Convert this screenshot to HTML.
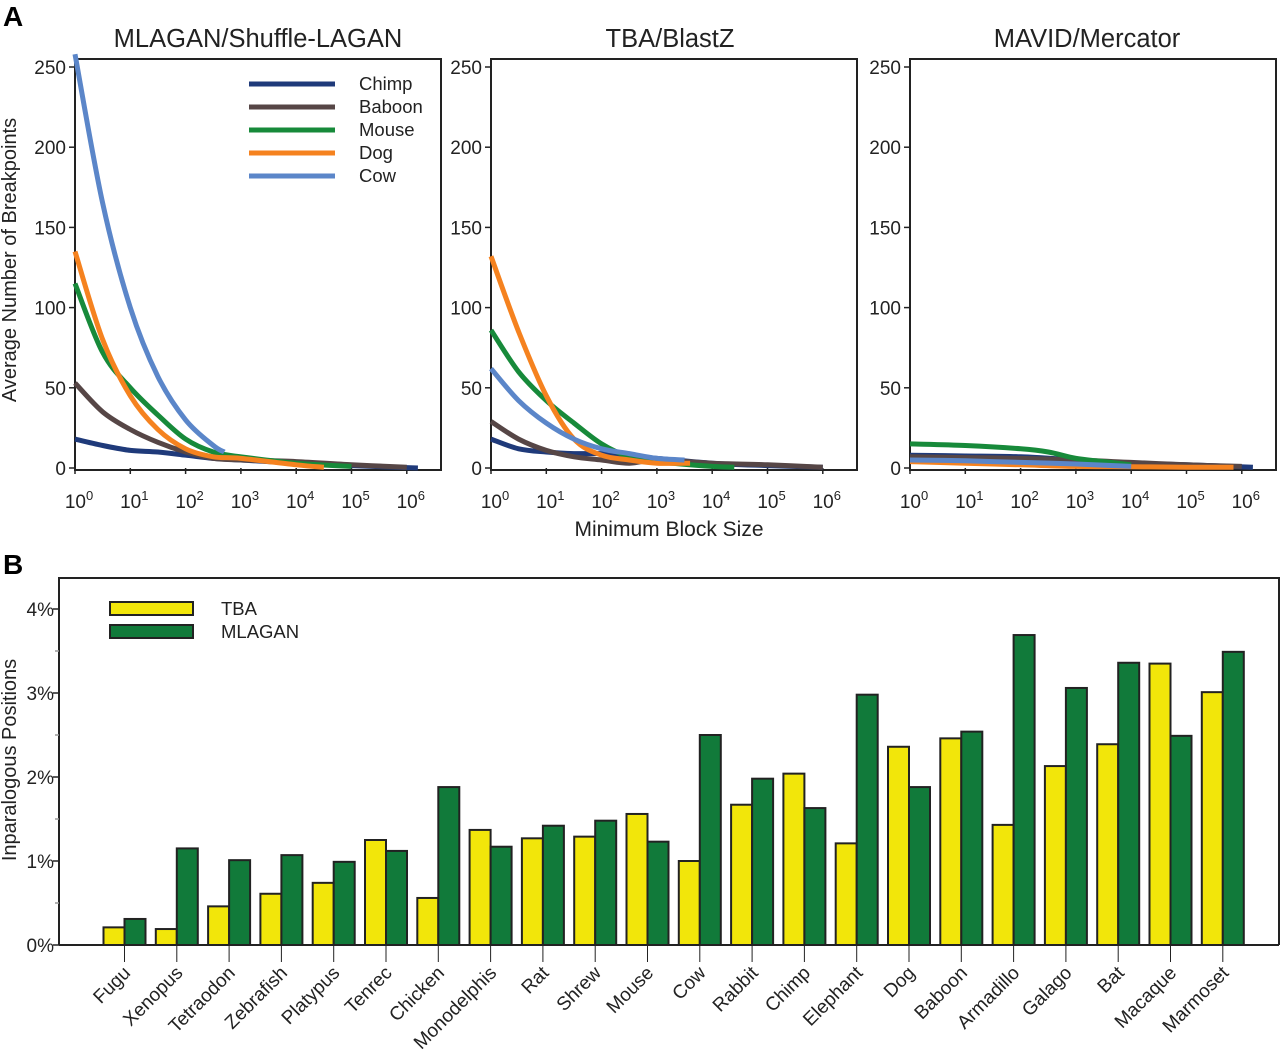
<!DOCTYPE html>
<html><head><meta charset="utf-8"><style>
html,body{margin:0;padding:0;background:#fff}
svg{display:block;font-family:"Liberation Sans",Arial,sans-serif}
</style></head><body>
<svg id="fig" width="1280" height="1051" viewBox="0 0 1280 1051" xmlns="http://www.w3.org/2000/svg">
<text x="3" y="26" font-size="28" font-weight="bold">A</text>
<text x="3" y="574" font-size="28" font-weight="bold">B</text>
<text transform="translate(16,260) rotate(-90)" text-anchor="middle" font-size="20" fill="#222">Average Number of Breakpoints</text>
<text x="669" y="536" text-anchor="middle" font-size="21" fill="#222">Minimum Block Size</text>
<text transform="translate(16,760) rotate(-90)" text-anchor="middle" font-size="20" fill="#222">Inparalogous Positions</text>
<g id="gA"></g>
<g id="gB"></g>
</svg>
<script>
const NS="http://www.w3.org/2000/svg";
function mk(tag,attrs,parent){const e=document.createElementNS(NS,tag);for(const k in attrs)e.setAttribute(k,attrs[k]);parent.appendChild(e);return e;}
function smooth(pts){
  let d='M'+pts[0][0].toFixed(1)+' '+pts[0][1].toFixed(1);
  for(let i=0;i<pts.length-1;i++){
    const p0=pts[Math.max(0,i-1)],p1=pts[i],p2=pts[i+1],p3=pts[Math.min(pts.length-1,i+2)];
    const c1=[p1[0]+(p2[0]-p0[0])/6,p1[1]+(p2[1]-p0[1])/6];
    const c2=[p2[0]-(p3[0]-p1[0])/6,p2[1]-(p3[1]-p1[1])/6];
    d+=` C${c1[0].toFixed(1)} ${c1[1].toFixed(1)} ${c2[0].toFixed(1)} ${c2[1].toFixed(1)} ${p2[0].toFixed(1)} ${p2[1].toFixed(1)}`;
  }
  return d;
}

// ---------- Panel A data ----------
const seriesNames=["Chimp","Baboon","Mouse","Dog","Cow"];
const seriesColors=["#1f3a7a","#564646","#178a3a","#f5821f","#5b86c9"];
const panelTitles=["MLAGAN/Shuffle-LAGAN","TBA/BlastZ","MAVID/Mercator"];
const yTicksA=[0,50,100,150,200,250];
const xTickExps=[0,1,2,3,4,5,6];
const mlChimp=[[0,18],[0.5,14],[1,11],[1.5,10],[2,8],[2.5,6],[3,5],[4,3],[5,1.5],[6.2,0]];
const mlBaboon=[[0,53],[0.5,35],[1,24],[1.5,16],[2,10],[2.5,6],[3,5],[4,4],[5,2],[6,0.5]];
const mlMouse=[[0,115],[0.5,72],[1,50],[1.5,33],[2,18],[2.5,10],[3,7],[4,3],[5,1]];
const mlDog=[[0,135],[0.5,80],[1,45],[1.5,24],[2,12],[2.5,7],[3,6],[4,2],[4.5,0.5]];
const mlCow=[[0,258],[0.5,165],[1,100],[1.5,57],[2,30],[2.5,14],[2.7,10]];
const tbaChimp=[[0,18],[0.5,12],[1,10],[1.5,9],[2,9],[2.5,8],[3,6],[4,3],[5,1.5],[6,0.5]];
const tbaBaboon=[[0,29],[0.5,18],[1,11],[1.5,7],[2,5],[2.5,3],[3,5],[4,3],[5,2],[6,0.5]];
const tbaMouse=[[0,86],[0.5,60],[1,42],[1.5,28],[2,15],[2.5,7],[3,4],[4,1],[4.4,0.5]];
const tbaDog=[[0,132],[0.5,85],[1,45],[1.5,18],[2,8],[2.5,5],[3,3],[3.6,3]];
const tbaCow=[[0,62],[0.5,42],[1,28],[1.5,18],[2,12],[2.5,9],[3,6],[3.5,5]];
const mvChimp=[[0,8],[1,7.5],[2,7],[3,5],[4,3],[5,2],[6.2,0.5]];
const mvBaboon=[[0,7],[1,6.5],[2,6],[3,5],[4,3.5],[5,2],[6,1]];
const mvMouse=[[0,15],[1,14],[2,12],[2.5,10],[3,6],[3.5,4],[4,2]];
const mvDog=[[0,4],[1,3],[2,2],[3,1],[4,0.8],[5,0.5],[5.85,0.5]];
const mvCow=[[0,5],[1,4.5],[2,3.5],[3,2.5],[4,1]];
const panelSeries=[[mlChimp,mlBaboon,mlMouse,mlDog,mlCow],[tbaChimp,tbaBaboon,tbaMouse,tbaDog,tbaCow],[mvChimp,mvBaboon,mvMouse,mvDog,mvCow]];

const gA=document.getElementById('gA');
const boxL=[75,491,910], boxW=366, boxTop=59, y0=468, yPer=(468-67)/250, dec=55.3;
const titleShift=[0,-4,-6];
panelTitles.forEach((t,p)=>{
  const L=boxL[p];
  const xs=v=>L+v*dec, ys=v=>y0-v*yPer;
  const tt=mk('text',{x:L+boxW/2+titleShift[p],y:47,'text-anchor':'middle','font-size':25.5,fill:'#222'},gA);tt.textContent=t;
  
  
  const box=mk('rect',{x:L,y:boxTop,width:boxW,height:y0-boxTop+2,fill:'none',stroke:'#222','stroke-width':2},gA);
  
  
  yTicksA.forEach(v=>{
    mk('line',{x1:L-6,x2:L,y1:ys(v),y2:ys(v),stroke:'#222','stroke-width':1.5},gA);
    const lb=mk('text',{x:L-9,y:ys(v)+7,'text-anchor':'end','font-size':19,fill:'#222'},gA);lb.textContent=v;
    
    
  });
  xTickExps.forEach(e=>{
    mk('line',{x1:xs(e),x2:xs(e),y1:y0,y2:y0+6,stroke:'#222','stroke-width':1.5},gA);
    const lb=mk('text',{x:xs(e)+4,y:508,'text-anchor':'middle','font-size':19,fill:'#222'},gA);
    lb.innerHTML='10<tspan font-size="13" dy="-8">'+e+'</tspan>';
    
    
  });
  panelSeries[p].forEach((s,i)=>{
    const pts=s.map(pt=>[xs(pt[0]),ys(pt[1])]);
    const pa=mk('path',{d:smooth(pts),fill:'none',stroke:seriesColors[i],'stroke-width':5,'stroke-linejoin':'round'},gA);
    
    
  });
});
seriesNames.forEach((n,i)=>{
  const y=84+i*23;
  const ln=mk('line',{x1:249,x2:335,y1:y,y2:y,stroke:seriesColors[i],'stroke-width':5},gA);
  
  
  const t=mk('text',{x:359,y:y+6,'font-size':18.5,fill:'#222'},gA);t.textContent=n;
  
  
});

// ---------- Panel B data ----------
const species=["Fugu","Xenopus","Tetraodon","Zebrafish","Platypus","Tenrec","Chicken","Monodelphis","Rat","Shrew","Mouse","Cow","Rabbit","Chimp","Elephant","Dog","Baboon","Armadillo","Galago","Bat","Macaque","Marmoset"];
const tbaValues=[0.21,0.19,0.46,0.61,0.74,1.25,0.56,1.37,1.27,1.29,1.56,1.00,1.67,2.04,1.21,2.36,2.46,1.43,2.13,2.39,3.35,3.01];
const mlaganValues=[0.31,1.15,1.01,1.07,0.99,1.12,1.88,1.17,1.42,1.48,1.23,2.50,1.98,1.63,2.98,1.88,2.54,3.69,3.06,3.36,2.49,3.49];
const yTicksB=[0,1,2,3,4];
const gB=document.getElementById('gB');
const bx0=59,bx1=1279,bTop=578,bBase=945,per=84;
const xb=i=>124.5+i*52.3, yb=v=>bBase-v*per;
mk('path',{d:`M${bx0} ${bBase} L${bx0} ${bTop} L${bx1} ${bTop} L${bx1} ${bBase}`,fill:'none',stroke:'#222','stroke-width':2},gB);
for(let v=0;v<=4.01;v+=0.5){
  const maj=Math.abs(v-Math.round(v))<0.01;
  mk('line',{x1:bx0-(maj?6:4),x2:bx0,y1:yb(v),y2:yb(v),stroke:maj?'#222':'#999','stroke-width':1.5},gB);
}
yTicksB.forEach(v=>{
  const t=mk('text',{x:54,y:yb(v)+7,'text-anchor':'end','font-size':19,fill:'#222'},gB);t.textContent=v+'%';
  
  
});
species.forEach((s,i)=>{
  const c=xb(i);
  const b1=mk('rect',{x:c-21,y:yb(tbaValues[i]),width:21,height:tbaValues[i]*per,fill:'#f2e60a',stroke:'#222','stroke-width':2},gB);
  
  
  const b2=mk('rect',{x:c,y:yb(mlaganValues[i]),width:21,height:mlaganValues[i]*per,fill:'#117a3a',stroke:'#222','stroke-width':2},gB);
  
  
  mk('line',{x1:c,x2:c,y1:bBase,y2:962,stroke:'#222','stroke-width':1},gB);
  const t=mk('text',{transform:`translate(${c+7},974) rotate(-45)`,'text-anchor':'end','font-size':19,fill:'#222'},gB);t.textContent=s;
  
  
});
mk('line',{x1:bx0,x2:bx1,y1:bBase,y2:bBase,stroke:'#222','stroke-width':2},gB);
[["TBA","#f2e60a",602],["MLAGAN","#117a3a",625]].forEach(([n,c,y])=>{
  const r=mk('rect',{x:110,y:y,width:83,height:13,fill:c,stroke:'#222','stroke-width':2},gB);
  
  
  const t=mk('text',{x:221,y:y+13,'font-size':18.5,fill:'#222'},gB);t.textContent=n;
  
  
});
</script>
</body></html>
